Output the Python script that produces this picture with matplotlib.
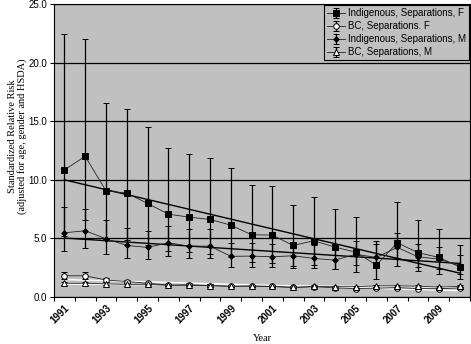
import matplotlib.pyplot as plt
import numpy as np
from matplotlib.ticker import FixedLocator, FormatStrFormatter

plt.rcParams['font.family'] = ['Liberation Sans', 'DejaVu Sans']

years = list(range(1991, 2011))

# Indigenous, separations, females (value, lower and upper CI)
ind_f = [10.85, 12.0, 9.06, 8.86, 7.98, 7.07, 6.81, 6.62, 6.13, 5.31,
         5.28, 4.40, 4.80, 4.26, 3.83, 2.72, 4.63, 3.78, 3.38, 2.58]
ind_f_lo = [5.24, 6.55, 4.96, 4.88, 4.40, 3.93, 3.80, 3.70, 3.42, 2.96,
            2.94, 2.48, 2.71, 2.41, 2.15, 1.55, 2.65, 2.19, 1.96, 1.51]
ind_f_hi = [22.46, 22.0, 16.55, 16.07, 14.48, 12.72, 12.2, 11.84, 10.99, 9.54,
            9.48, 7.81, 8.49, 7.52, 6.81, 4.77, 8.08, 6.53, 5.82, 4.4]

# BC, separations, females
bc_f = [1.81, 1.81, 1.45, 1.32, 1.17, 1.02, 1.05, 0.98, 0.92, 0.95,
        0.90, 0.82, 0.88, 0.78, 0.72, 0.75, 0.80, 0.72, 0.70, 0.78]
bc_f_lo = [1.55, 1.55, 1.30, 1.18, 1.05, 0.92, 0.95, 0.88, 0.83, 0.86,
           0.81, 0.74, 0.79, 0.70, 0.64, 0.67, 0.72, 0.64, 0.62, 0.70]
bc_f_hi = [2.10, 2.10, 1.62, 1.48, 1.30, 1.13, 1.16, 1.09, 1.02, 1.05,
           1.00, 0.91, 0.98, 0.87, 0.81, 0.84, 0.89, 0.81, 0.79, 0.87]

# Indigenous, separations, males
ind_m = [5.48, 5.65, 4.97, 4.40, 4.23, 4.63, 4.34, 4.34, 3.47, 3.49,
         3.43, 3.52, 3.29, 3.15, 3.64, 3.38, 4.23, 3.43, 3.24, 2.65]
ind_m_lo = [3.92, 4.20, 3.69, 3.29, 3.21, 3.47, 3.29, 3.29, 2.58, 2.60,
            2.58, 2.62, 2.45, 2.35, 2.75, 2.50, 3.30, 2.60, 2.40, 1.95]
ind_m_hi = [7.64, 7.52, 6.53, 5.88, 5.62, 6.07, 5.79, 5.76, 4.57, 4.60,
            4.50, 4.60, 4.40, 4.20, 4.80, 4.50, 5.42, 4.50, 4.30, 3.60]

# BC, separations, males
bc_m = [1.17, 1.17, 1.12, 1.08, 1.08, 1.00, 1.00, 0.97, 0.92, 0.92,
        0.90, 0.82, 0.90, 0.88, 0.88, 0.95, 0.95, 0.92, 0.85, 0.90]
bc_m_lo = [1.05, 1.05, 1.01, 0.98, 0.98, 0.91, 0.91, 0.88, 0.84, 0.84,
           0.82, 0.75, 0.82, 0.80, 0.80, 0.87, 0.87, 0.84, 0.77, 0.82]
bc_m_hi = [1.30, 1.30, 1.24, 1.19, 1.19, 1.10, 1.10, 1.07, 1.01, 1.01,
           0.99, 0.90, 0.99, 0.97, 0.97, 1.04, 1.04, 1.01, 0.94, 0.99]

series = [
    ('Indigenous, Separations, F', ind_f, ind_f_lo, ind_f_hi, 's', 'black', 4.5, 'black'),
    ('BC, Separations. F', bc_f, bc_f_lo, bc_f_hi, 'o', 'white', 4, 'white'),
    ('Indigenous, Separations, M', ind_m, ind_m_lo, ind_m_hi, 'D', 'black', 2.8, 'black'),
    ('BC, Separations, M', bc_m, bc_m_lo, bc_m_hi, '^', 'white', 4, 'white'),
]

fig = plt.figure(figsize=(4.71, 3.44), dpi=100)
ax = fig.add_axes([54 / 471, 47 / 344, 416 / 471, 293 / 344])
ax.set_facecolor('#c0c0c0')
x = np.arange(len(years))

for label, vals, lo, hi, marker, mfc, ms, trend_col in series:
    vals = np.array(vals)
    yerr = [vals - np.array(lo), np.array(hi) - vals]
    ax.errorbar(x, vals, yerr=yerr, fmt='-', marker=marker, color='#222222',
                mfc=mfc, mec='black', ms=ms, lw=0.6, mew=0.7,
                elinewidth=0.9, ecolor='black', capsize=2.2, capthick=0.9,
                label=label, zorder=3)
    # linear trend line, as in the spreadsheet
    slope, icept = np.polyfit(x, vals, 1)
    ax.plot(x, slope * x + icept, color=trend_col, lw=1.0, zorder=2.5)

ax.set_xlim(-0.5, len(years) - 0.5)
ax.set_ylim(0, 25)
ax.set_yticks(np.arange(0, 25.1, 5))
ax.yaxis.set_major_formatter(FormatStrFormatter('%.1f'))
ax.yaxis.grid(True, color='black', lw=0.9)
ax.set_axisbelow(True)

ax.set_xticks(x[::2])
ax.set_xticklabels([str(y) for y in years[::2]], rotation=45, ha='right',
                   rotation_mode='anchor', fontsize=7, fontweight='bold')
ax.xaxis.set_minor_locator(FixedLocator(np.arange(-0.5, len(years), 1)))
ax.tick_params(axis='x', which='major', length=0, pad=4)
ax.tick_params(axis='x', which='minor', length=3, width=0.8, direction='out')
ax.tick_params(axis='y', length=3, width=0.8, labelsize=7, pad=2)

for sp in ax.spines.values():
    sp.set_color('black')
    sp.set_linewidth(0.8)

ax.set_ylabel('Standardized Relative Risk\n(adjusted for age, gender and HSDA)',
              family='Liberation Serif', fontsize=7.5, linespacing=1.0)
ax.yaxis.set_label_coords(-0.065, 0.55)
ax.set_xlabel('Year', family='Liberation Serif', fontsize=7.5)
ax.xaxis.set_label_coords(0.5, -0.125)

leg = ax.legend(loc='upper right', bbox_to_anchor=(1.0, 1.0), borderaxespad=0.15,
                fontsize=7, fancybox=False, edgecolor='black', facecolor='#c0c0c0',
                framealpha=1, handlelength=1.8, handletextpad=0.3,
                labelspacing=0.3, borderpad=0.3)
leg.get_frame().set_linewidth(0.8)

fig.savefig('out.png', dpi=100)
